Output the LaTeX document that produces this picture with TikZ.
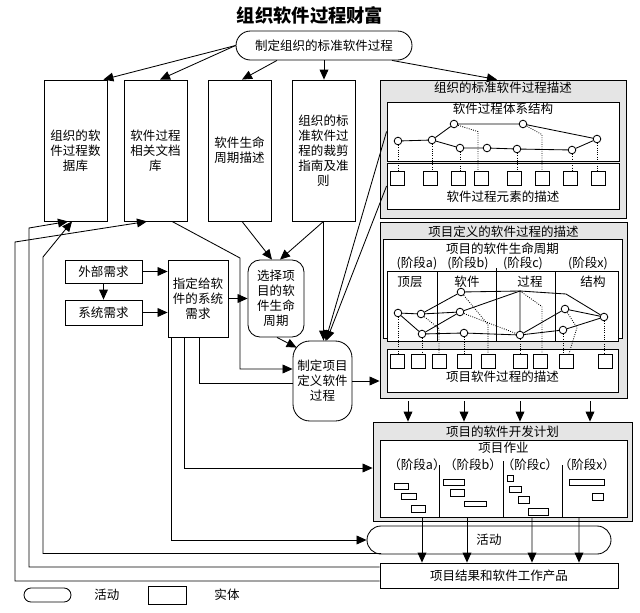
\documentclass[tikz,border=0pt]{standalone}
\usepackage{fontspec}
\setmainfont{Noto Sans CJK SC}
\usetikzlibrary{arrows.meta,calc,shapes.misc}

\begin{document}
\begin{tikzpicture}[x=0.025cm,y=-0.025cm,line width=0.6pt,
  every node/.style={font=\fontsize{8.9}{10.7}\selectfont,inner sep=0pt},
  >={Triangle[length=2.5mm,width=2.2mm]},
  sz/.style 2 args={minimum width=#1*0.025cm,minimum height=#2*0.025cm},
  entity/.style={draw,fill=white,align=center},
  activity/.style={draw,fill=white,rounded rectangle,align=center},
  bulge/.style={draw,fill=white,align=center,rounded corners=#1},
  panel/.style={draw,fill=gray!20},
  sheet/.style={draw,fill=white},
  knot/.style={circle,draw,fill=white,minimum size=0.19cm},
  elem/.style={draw,fill=white,minimum size=0.35cm},
  link/.style={densely dotted}]
  \useasboundingbox (0,0) rectangle (640,613);

  \node[font=\fontsize{13}{15}\selectfont\bfseries] (title) at (310,15) {组织软件过程财富};
  \node[activity,sz={176}{29}] (orgproc) at (324,45.5) {制定组织的标准软件过程};

  \node[entity,sz={63}{141}] (db) at (75.5,150.5) {组织的软\\件过程数\\据库};
  \node[entity,sz={63}{141}] (docs) at (155.5,150.5) {软件过程\\相关文档\\库};
  \node[entity,sz={63}{141}] (cycle) at (239.5,150.5) {软件生命\\周期描述};
  \node[entity,sz={63}{141}] (tailor) at (323.5,150.5) {组织的标\\准软件过\\程的裁剪\\指南及准\\则};

  \node[entity,sz={77}{23}] (ext) at (103.5,271.5) {外部需求};
  \node[entity,sz={77}{25}] (sysreq) at (103.5,312.5) {系统需求};
  \node[entity,sz={60}{77}] (alloc) at (198,298.5) {指定给软\\件的系统\\需求};
  \node[bulge=0.3cm,sz={56}{77}] (select) at (276,298.5) {选择项\\目的软\\件生命\\周期};
  \node[bulge=0.42cm,sz={59}{80}] (define) at (322.5,381) {制定项目\\定义软件\\过程};

  % organisation's standard process
  \node[panel,sz={246}{138}] (orgdesc) at (503,149) {};
  \node (orgdesctitle) at (503,88) {组织的标准软件过程描述};
  \node[sheet,sz={232}{59}] (arch) at (503,131.5) {};
  \node (archtitle) at (503,109) {软件过程体系结构};
  \node[sheet,sz={232}{46}] (elems) at (503,186) {};
  \node (elemstitle) at (503,197) {软件过程元素的描述};
  \foreach \n/\x/\y in {c1/398/141,c2/432/140,c3/454/124,c4/523/124,c5/460/148,
                        c6/487/148,c7/517/149,c8/572/150,c9/597/139}
    \node[knot] (\n) at (\x,\y) {};
  \foreach \x [count=\i] in {397,430,458,481,514,542,570,598}
    \node[elem] (s\i) at (\x,178) {};
  \draw (c1) -- (c2) -- (c3) -- (c4) -- (c9) -- (c8) -- (c7) -- (c6) -- (c5) -- (c2);
  \draw[link] (c1) -- (c1 |- s1.north);
  \draw[link] (c2) -- (c2 |- s2.north);
  \draw[link] (c5) -- (c5 |- s3.north);
  \draw[link] (c3) -- ($(s4.north)+(-3,-39)$) -- ($(s4.north)+(-3,0)$);
  \draw[link] (c7) -- (c7 |- s5.north);
  \draw[link] (c4) -- ($(s6.north)+(0,-36)$) -- (s6.north);
  \draw[link] (c8) -- (c8 |- s7.north);
  \draw[link] (c9) -- (c9 |- s8.north);

  % project's defined process
  \node[panel,sz={247}{176}] (pdesc) at (503.5,310) {};
  \node (pdesctitle) at (503.5,232) {项目定义的软件过程的描述};
  \node[sheet,sz={239}{99}] (plc) at (502.5,288.5) {};
  \node (plctitle) at (502.5,249) {项目的软件生命周期};
  \node[sheet,sz={231}{70}] (phases) at (502.5,306) {};
  \node[sheet,sz={231}{43}] (pelems) at (502.5,370.5) {};
  \node (pelemstitle) at (502.5,377) {项目软件过程的描述};
  \foreach \n/\x/\t in {pa/417/a,pb/468/b,pc/523/c,px/588/x}
    \node (\n) at (\x,263) {(阶段\t)};
  \foreach \n/\x/\t in {top/410/顶层,sw/467/软件,pr/530/过程,st/593/结构}
    \node (\n) at (\x,282) {\t};
  \foreach \x/\y in {437/271,496/268,555/271}
    \draw (\x,\y) -- (\x,341);
  \foreach \n/\x/\y in {d1/398/313,d2/421/314,d3/422/334,d4/461/292,d5/460/312,
                        d6/464/333,d7/520/335,d8/565/309,d9/563/330,d10/604/317}
    \node[knot] (\n) at (\x,\y) {};
  \coordinate (t) at (520,291);
  \coordinate (bend) at (566,294);
  \foreach \x [count=\i] in {397,418,439,464,488,520,540,566,605}
    \node[elem] (q\i) at (\x,361) {};
  \draw (d1) -- (d2) -- (d4) -- (t) -- (bend) -- (d10) -- (d9) -- (d7) -- (d6) -- (d3) -- (d1);
  \draw (d2) -- (d5) -- (d3);
  \draw (d5) -- (t) -- (d7) -- (d8) -- (d10);
  \draw[link] (d1) -- (d1 |- q1.north);
  \draw[link] (d3) -- (d3 |- q2.north);
  \draw[link] (d2) -- ($(q3.north)+(0,-25)$) -- (q3.north);
  \draw[link] (d6) -- (d6 |- q4.north);
  \draw[link] (d4) -- ($(q5.north)+(0,-29)$) -- (q5.north);
  \draw[link] (d5) -- (d7);
  \draw[link] (d7) -- (d7 |- q6.north);
  \draw[link] (t) -- ($(q7.north)+(2,-47)$) -- ($(q7.north)+(2,0)$);
  \draw[link] (d8) -- ($(q8.north)+(11,-26)$) -- ($(q8.north)+(3,0)$);
  \draw[link] (d9) -- (d9 |- q8.north);
  \draw[link] (d10) -- (d10 |- q9.north);

  % development plan
  \node[panel,sz={259}{99}] (plan) at (502.5,471.5) {};
  \node (plantitle) at (502.5,432) {项目的软件开发计划};
  \node[sheet,sz={247}{77}] (tasks) at (503.5,478.5) {};
  \node (taskstitle) at (503.5,448) {项目作业};
  \foreach \n/\x/\t in {ta/417/a,tb/473/b,tc/530/c,tx/587/x}
    \node (\n) at (\x,465) {（阶段\t）};
  \foreach \x/\y in {439/465,503/461,562/465}
    \draw (\x,\y) -- (\x,517);
  \foreach \xa/\ya/\xb/\yb in {394/483/408/489,401/493/416/499,411/505/425/512,
      443/479/464/485,450/489/464/496,464/501/486/506,
      507/475/513/481,509/486/521/492,518/496/529/503,528/508/548/515,
      569/479/604/485,592/493/603/500}
    \draw[fill=white] (\xa,\ya) rectangle (\xb,\yb);

  \node[activity,sz={244}{28}] (act) at (489,540) {活动};
  \node[entity,sz={238}{25}] (prod) at (499,575.5) {项目结果和软件工作产品};

  \node[activity,sz={47}{14}] (keyact) at (47.5,595) {};
  \node (keyacttext) at (107,595) {活动};
  \node[entity,sz={38}{18}] (keyent) at (167,595) {};
  \node (keyenttext) at (227,595) {实体};

  \draw[->] (orgproc.west) -- ($(db.north east)+(-4,0)$);
  \draw[->] (orgproc.west) -- ($(docs.north)+(4.5,0)$);
  \draw[->] ($(orgproc.south)+(-47,0)$) -- ($(cycle.north)+(2.5,0)$);
  \draw[->] (orgproc.south) -- (orgproc.south |- tailor.north);
  \draw[->] ($(orgproc.south)+(68,0)$) -- ($(orgdesc.north)+(-6,0)$);

  \draw[->] ($(prod.west)+(0,5.5)$) -| (15,242) -- ($(docs.south)+(-8.5,0)$);
  \draw[->] ($(prod.west)+(0,-8.5)$) -| (29,228) -- ($(db.south)+(-7.5,0)$);
  \draw[->] ($(act.south)+(-108,-1)$) -| (43,257) -- ($(db.south)+(-3.5,0)$);

  \draw[->] (ext) -- (sysreq);
  \draw[->] (ext.east) -- (ext.east -| alloc.west);
  \draw[->] (sysreq.east) -- (sysreq.east -| alloc.west);
  \draw[->] (alloc.east) -- (alloc.east -| select.west);
  \draw[->] ($(docs.south)+(16.5,0)$) -- (240,258) |- ($(define.west)+(0,-12)$);
  \draw[->] ($(cycle.south)+(2.5,0)$) -- ($(select.north)+(-4,0)$);
  \draw[->] (tailor.south) -- ($(select.north)+(4,0)$);
  \draw[->] (tailor.south) -- (tailor.south |- define.north);
  \draw[->] (arch.west) -- ($(define.north)+(3,0)$);
  \draw[->] (elems.west) -- ($(define.north)+(4,0)$);
  \draw[->] ($(select.south)+(1,0)$) -- ($(define.north west)+(4,7)$);
  \draw ($(alloc.south)+(1,0)$) |- ($(define.west)+(0,2)$);
  \draw[->] (define.east) -- (define.east -| pdesc.west);
  \draw[->] ($(alloc.south)+(-14,0)$) |- ($(plan.west)+(0,-3.5)$);
  \draw[->] ($(alloc.south)+(-27,0)$) |- (act.west);

  \foreach \dx in {-95.5,-39.5,16.5,86.5}
    \draw[->] ($(pdesc.south)+(\dx,3)$) -- ($(plan.north)+(\dx+1,0)$);
  \foreach \dx in {-81.5,-36.5,28.5,75.5}
    \draw[->] ($(tasks.south)+(\dx,0)$) -- ($(prod.north)+(\dx+4.5,0)$);
\end{tikzpicture}
\end{document}
